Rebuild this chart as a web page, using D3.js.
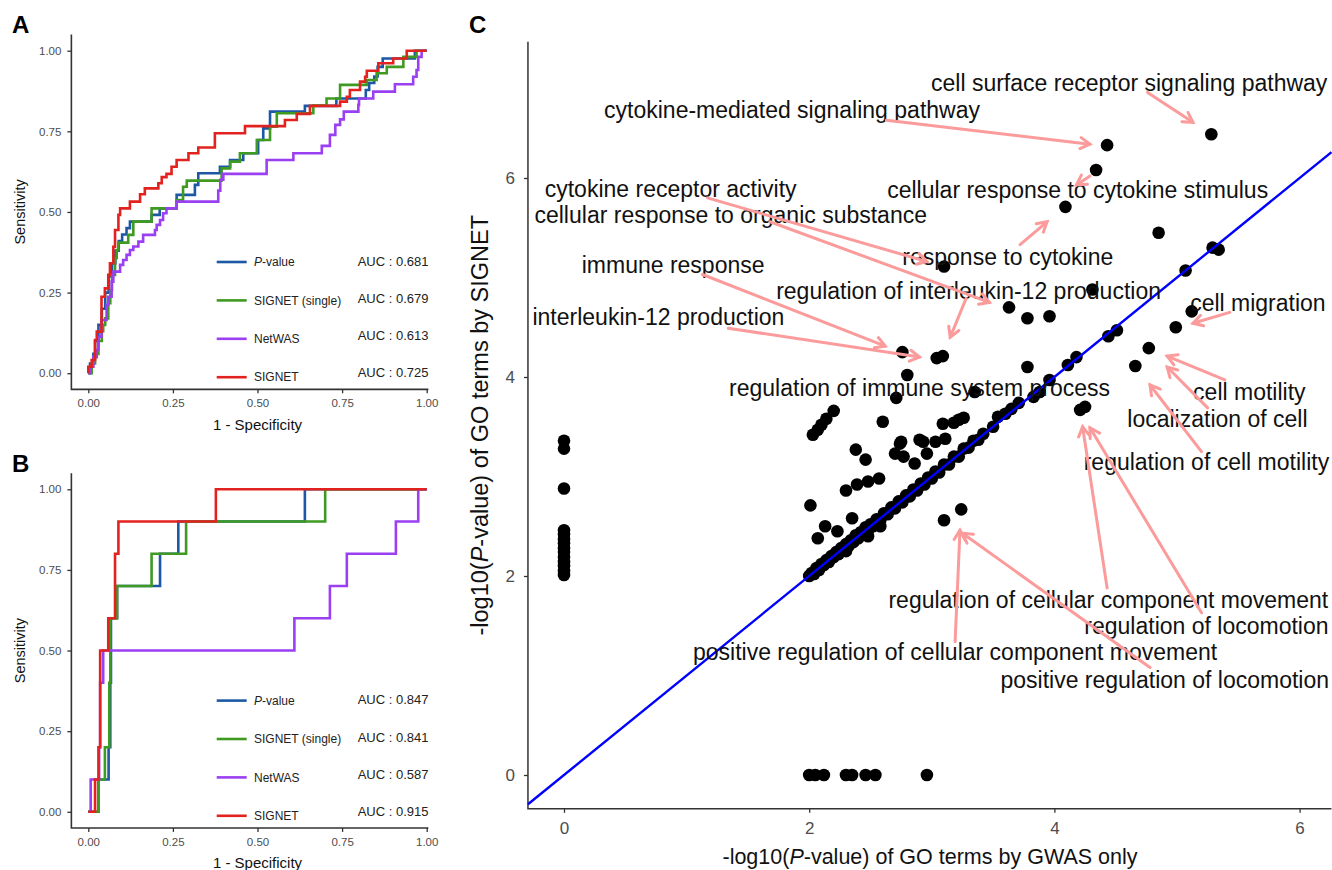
<!DOCTYPE html>
<html>
<head>
<meta charset="utf-8">
<script src="https://cdn.jsdelivr.net/npm/d3@7"></script>
<style>
body { margin: 0; background: #fff; }
svg { font-family: "Liberation Sans", Arial, sans-serif; }
.tick line { stroke: #333; }
.tick text { fill: #4d4d4d; }
</style>
</head>
<body>
<div class="chart"></div>
<script>
var width = 1332;
var height = 870;

// ---- data: ROC panels (fpr where a level starts, tpr level) ----
var methods = ["P-value", "SIGNET (single)", "NetWAS", "SIGNET"];
var aucA = ["0.681", "0.679", "0.613", "0.725"];
var aucB = ["0.847", "0.841", "0.587", "0.915"];
var rocTicks = [0, 0.25, 0.5, 0.75, 1];

var rocA_pvalue = [[0,0],[0.005,0.03],[0.015,0.06],[0.02,0.1],[0.03,0.15],[0.04,0.2],[0.05,0.25],[0.06,0.3],[0.07,0.34],
  [0.08,0.38],[0.09,0.41],[0.1,0.43],[0.113,0.45],[0.123,0.47],[0.187,0.491],[0.211,0.511],[0.261,0.553],[0.315,0.584],
  [0.325,0.62],[0.389,0.64],[0.419,0.661],[0.458,0.682],[0.502,0.723],[0.517,0.759],[0.537,0.811],[0.64,0.829],
  [0.733,0.852],[0.82,0.878],[0.83,0.9],[0.845,0.92],[0.855,0.95],[0.87,0.976],[0.965,1],[1,1]];
var rocA_single = [[0,0],[0.01,0.03],[0.02,0.06],[0.03,0.1],[0.04,0.13],[0.044,0.15],[0.05,0.17],[0.059,0.217],
  [0.065,0.258],[0.07,0.305],[0.079,0.357],[0.084,0.382],[0.089,0.405],[0.118,0.429],[0.133,0.47],[0.187,0.511],
  [0.261,0.537],[0.28,0.578],[0.291,0.597],[0.394,0.635],[0.419,0.656],[0.448,0.682],[0.498,0.723],[0.537,0.764],
  [0.557,0.806],[0.665,0.83],[0.704,0.852],[0.744,0.894],[0.823,0.909],[0.852,0.93],[0.882,0.95],[0.931,0.981],
  [0.97,1],[1,1]];
var rocA_netwas = [[0,0],[0.005,0.02],[0.015,0.05],[0.025,0.072],[0.03,0.113],[0.039,0.165],[0.054,0.212],[0.059,0.237],
  [0.069,0.284],[0.074,0.315],[0.094,0.336],[0.103,0.351],[0.113,0.367],[0.123,0.382],[0.133,0.393],[0.148,0.408],
  [0.162,0.429],[0.197,0.444],[0.202,0.46],[0.212,0.475],[0.221,0.496],[0.231,0.511],[0.261,0.532],[0.384,0.566],
  [0.39,0.6],[0.399,0.618],[0.527,0.661],[0.606,0.682],[0.69,0.705],[0.714,0.739],[0.73,0.77],[0.744,0.787],
  [0.755,0.811],[0.798,0.832],[0.8,0.852],[0.842,0.873],[0.906,0.896],[0.96,0.919],[0.97,0.94],[0.975,0.981],
  [0.985,1],[1,1]];
var rocA_signet = [[0,0],[0,0.02],[0.01,0.041],[0.02,0.103],[0.025,0.129],[0.039,0.237],[0.049,0.263],[0.059,0.305],
  [0.064,0.341],[0.074,0.392],[0.079,0.444],[0.089,0.491],[0.094,0.511],[0.123,0.532],[0.153,0.555],[0.167,0.573],
  [0.207,0.589],[0.217,0.608],[0.231,0.618],[0.246,0.64],[0.261,0.661],[0.296,0.682],[0.325,0.70],[0.374,0.744],
  [0.463,0.766],[0.581,0.785],[0.616,0.804],[0.655,0.829],[0.744,0.842],[0.764,0.857],[0.773,0.878],[0.803,0.904],
  [0.818,0.919],[0.823,0.938],[0.857,0.961],[0.901,0.976],[0.941,1],[1,1]];

var rocB_pvalue = [[0,0],[0.03,0.1],[0.06,0.2],[0.065,0.4],[0.067,0.6],[0.085,0.7],[0.212,0.8],[0.266,0.9],[0.64,1],[1,1]];
var rocB_single = [[0,0],[0.03,0.1],[0.049,0.2],[0.062,0.4],[0.065,0.6],[0.085,0.7],[0.187,0.8],[0.289,0.9],[0.70,1],[1,1]];
var rocB_netwas = [[0,0],[0.007,0.1],[0.032,0.2],[0.035,0.4],[0.044,0.5],[0.609,0.6],[0.714,0.7],[0.764,0.8],[0.909,0.9],[0.975,1],[1,1]];
var rocB_signet = [[0,0],[0.02,0.1],[0.03,0.2],[0.035,0.5],[0.059,0.6],[0.079,0.8],[0.089,0.9],[0.377,1],[1,1]];

// ---- data: GO term scatter (GWAS only, SIGNET) ----
var goTicks = [0, 2, 4, 6];
var goTerms = [
  [0,3.36],[0,3.28],[0,2.88],[0,2.46],[0,2.42],[0,2.37],[0,2.33],[0,2.28],[0,2.24],[0,2.19],[0,2.14],[0,2.10],[0,2.05],[0,2.01],
  [2.0,0],[2.05,0],[2.12,0],[2.30,0],[2.35,0],[2.46,0],[2.54,0],[2.96,0],
  [2.03,3.42],[2.07,3.47],[2.10,3.52],[2.14,3.58],[2.20,3.66],[2.38,3.27],[2.46,3.17],[2.60,3.55],[2.71,3.79],
  [2.74,3.33],[2.70,3.23],[2.77,3.20],[2.57,2.98],[2.48,2.95],[2.39,2.92],[2.30,2.86],[2.01,2.71],[2.35,2.58],
  [2.13,2.50],[2.23,2.45],[2.07,2.38],[3.10,5.11],[2.76,4.25],[3.04,4.19],[3.09,4.21],[2.80,4.02],[3.35,3.85],
  [3.22,3.57],[3.26,3.59],[3.18,3.54],[3.09,3.53],[2.75,3.35],[2.90,3.37],[3.03,3.35],[3.11,3.38],[2.96,3.23],
  [2.86,3.13],[2.93,3.35],[4.09,5.71],[4.85,5.45],[5.29,5.30],[5.34,5.28],[5.07,5.07],[4.31,4.88],[3.63,4.70],
  [3.78,4.59],[3.96,4.61],[3.78,4.10],[5.28,6.44],[4.43,6.33],[4.34,6.08],
  [5.12,4.66],[4.99,4.50],[4.77,4.29],[4.66,4.11],[4.21,3.67],[4.25,3.70],[3.24,2.67],[3.10,2.56],
  [4.51,4.47],[4.44,4.41],[4.18,4.20],[4.11,4.12],[3.96,3.97],[3.88,3.85],[3.83,3.80],[3.71,3.74],[3.65,3.68],
  [3.60,3.63],[3.54,3.60],[3.50,3.50],[3.42,3.43],
  [2.00,2.00],[2.02,2.03],[2.04,2.02],[2.06,2.08],[2.08,2.06],[2.10,2.12],[2.12,2.11],[2.14,2.16],[2.16,2.14],
  [2.18,2.20],[2.20,2.19],[2.22,2.24],[2.24,2.22],[2.26,2.28],[2.28,2.26],[2.30,2.32],[2.32,2.30],[2.34,2.36],
  [2.36,2.34],[2.38,2.41],[2.40,2.38],[2.42,2.44],[2.44,2.42],[2.46,2.49],[2.48,2.46],[2.50,2.52],[2.52,2.50],
  [2.55,2.57],[2.58,2.56],[2.61,2.63],[2.64,2.62],[2.67,2.69],[2.70,2.68],[2.73,2.75],[2.76,2.74],[2.79,2.81],
  [2.82,2.80],[2.85,2.87],[2.88,2.86],[2.91,2.93],[2.94,2.92],[2.97,2.99],[3.00,2.98],[3.03,3.05],[3.06,3.04],
  [3.10,3.12],[3.14,3.12],[3.18,3.20],[3.22,3.20],[3.26,3.28],[3.30,3.29],[3.34,3.36],[3.38,3.37],
  [2.48,2.40],[2.30,2.25],[2.58,2.50]
];
// label text, centre (data units)
var goLabels = [
  ["cell surface receptor signaling pathway", 4.61, 6.96],
  ["cytokine-mediated signaling pathway", 1.86, 6.68],
  ["cellular response to cytokine stimulus", 4.19, 5.88],
  ["cytokine receptor activity", 0.87, 5.89],
  ["cellular response to organic substance", 1.36, 5.63],
  ["response to cytokine", 3.62, 5.21],
  ["immune response", 0.89, 5.13],
  ["regulation of interleukin-12 production", 3.30, 4.86],
  ["interleukin-12 production", 0.77, 4.60],
  ["regulation of immune system process", 2.90, 3.89],
  ["cell migration", 5.66, 4.74],
  ["cell motility", 5.59, 3.85],
  ["localization of cell", 5.33, 3.58],
  ["regulation of cell motility", 5.24, 3.15],
  ["regulation of cellular component movement", 4.44, 1.76],
  ["regulation of locomotion", 5.24, 1.50],
  ["positive regulation of cellular component movement", 3.19, 1.24],
  ["positive regulation of locomotion", 4.90, 0.96]
];
// arrows: from (x, y) to (x, y), data units
var goArrows = [
  [4.76,6.86,5.13,6.56],[2.63,6.58,4.29,6.34],[4.29,6.02,4.18,5.93],[1.17,5.80,2.96,5.16],[1.68,5.56,3.47,4.75],
  [3.72,5.33,3.94,5.56],[1.13,5.03,2.62,4.31],[3.28,4.79,3.15,4.40],[1.34,4.49,2.90,4.20],[5.43,4.65,5.13,4.54],
  [5.39,3.97,4.92,4.21],[5.25,3.69,4.92,4.10],[5.20,3.25,4.78,3.92],[4.43,1.88,4.23,3.50],[5.20,1.63,4.29,3.49],
  [3.19,1.34,3.23,2.46],[4.78,1.08,3.25,2.43]
];

var colors = ["#1d58a4", "#3f9a22", "#9b3ff2", "#e2221e"];
var axisColor = "#333";

function build_svg(c) {
    return c.append("svg").attr("width", width).attr("height", height);
}

function add_parts(t, parts) {
    parts.forEach(function(p) {
        t.append("tspan").attr("font-style", p[1] ? "italic" : null).text(p[0]);
    });
}

function build_roc(s, top, curves, auc, letter) {
    var x = d3.scaleLinear().domain([0, 1]).range([88.3, 426.7]);
    var y = d3.scaleLinear().domain([0, 1]).range([top + 322.5, top]);
    var g = s.append("g");

    var xAxis = d3.axisBottom(x).tickValues(rocTicks).tickFormat(d3.format(".2f")).tickSize(4).tickPadding(6);
    var yAxis = d3.axisLeft(y).tickValues(rocTicks).tickFormat(d3.format(".2f")).tickSize(4).tickPadding(6);
    var gx = g.append("g").attr("transform", "translate(0," + y(-0.05) + ")").call(xAxis);
    var gy = g.append("g").attr("transform", "translate(" + x(-0.05) + ",0)").call(yAxis);
    [gx, gy].forEach(function(a) {
        a.select(".domain").remove();
        a.selectAll("text").attr("font-size", "11.5px").attr("font-family", "Liberation Sans, Arial, sans-serif");
        a.selectAll("line").attr("stroke-width", 1.3);
    });
    g.append("path")
        .attr("d", "M" + x(-0.05) + "," + y(1.05) + "V" + y(-0.05) + "H" + x(1.005))
        .attr("fill", "none").attr("stroke", axisColor).attr("stroke-width", 1.6);

    var line = d3.line().x(function(d) { return x(d[0]); }).y(function(d) { return y(d[1]); }).curve(d3.curveStepAfter);
    curves.forEach(function(c, i) {
        g.append("path").attr("d", line(c)).attr("fill", "none")
            .attr("stroke", colors[i]).attr("stroke-width", 2.6).attr("stroke-linejoin", "miter");
    });

    // legend
    methods.forEach(function(m, i) {
        var ly = top + 211.3 + i * 38.4;
        g.append("line").attr("x1", 216.7).attr("x2", 246.7).attr("y1", ly).attr("y2", ly)
            .attr("stroke", colors[i]).attr("stroke-width", 2.6);
        var t = g.append("text").attr("x", 254).attr("y", ly).attr("dy", "0.35em")
            .attr("font-size", "12px").attr("fill", "#222");
        if (i == 0) add_parts(t, [["P", true], ["-value", false]]);
        else t.text(m);
        g.append("text").attr("x", 357.7).attr("y", top + 210.5 + i * 37.2).attr("dy", "0.35em")
            .attr("font-size", "13px").attr("fill", "#222").text("AUC : " + auc[i]);
    });

    g.append("text").attr("x", x(0.5)).attr("y", top + 379).attr("text-anchor", "middle")
        .attr("font-size", "15px").attr("fill", "#111").text("1 - Specificity");
    g.append("text").attr("transform", "translate(25," + y(0.5) + ") rotate(-90)").attr("text-anchor", "middle")
        .attr("font-size", "14.5px").attr("fill", "#111").text("Sensitivity");
    g.append("text").attr("x", 12).attr("y", top - 17.5).attr("font-size", "24px")
        .attr("font-weight", "bold").text(letter);
}

function arrow_head(x1, y1, x2, y2, len) {
    var a = Math.atan2(y2 - y1, x2 - x1);
    var p1 = [x2 - len * Math.cos(a - Math.PI / 6), y2 - len * Math.sin(a - Math.PI / 6)];
    var p2 = [x2 - len * Math.cos(a + Math.PI / 6), y2 - len * Math.sin(a + Math.PI / 6)];
    return "M" + p1 + "L" + x2 + "," + y2 + "L" + p2;
}

function build_scatter(s) {
    var x = d3.scaleLinear().domain([0, 6]).range([564, 1299.6]);
    var y = d3.scaleLinear().domain([0, 6]).range([775, 178]);
    var xDom = [-0.294, 6.26], yDom = [-0.34, 7.37];
    var g = s.append("g");

    var xAxis = d3.axisBottom(x).tickValues(goTicks).tickFormat(d3.format("d")).tickSize(4).tickPadding(9);
    var yAxis = d3.axisLeft(y).tickValues(goTicks).tickFormat(d3.format("d")).tickSize(4).tickPadding(9);
    var gx = g.append("g").attr("transform", "translate(0," + y(yDom[0]) + ")").call(xAxis);
    var gy = g.append("g").attr("transform", "translate(" + x(xDom[0]) + ",0)").call(yAxis);
    [gx, gy].forEach(function(a) {
        a.select(".domain").remove();
        a.selectAll("text").attr("font-size", "17px").attr("font-family", "Liberation Sans, Arial, sans-serif");
        a.selectAll("line").attr("stroke-width", 1.3);
    });
    g.append("path")
        .attr("d", "M" + x(xDom[0]) + "," + y(yDom[1]) + "V" + y(yDom[0]) + "H" + x(xDom[1]))
        .attr("fill", "none").attr("stroke", axisColor).attr("stroke-width", 1.5);

    g.selectAll(".go").data(goTerms).enter().append("circle")
        .attr("class", "go")
        .attr("cx", function(d) { return x(d[0]); })
        .attr("cy", function(d) { return y(d[1]); })
        .attr("r", 6.3).attr("fill", "#000");

    // identity line
    var line = d3.line().x(function(d) { return x(d[0]); }).y(function(d) { return y(d[1]); });
    g.append("path").attr("d", line([[xDom[0], xDom[0]], [xDom[1], xDom[1]]]))
        .attr("stroke", "#0000ff").attr("stroke-width", 2.4).attr("fill", "none");

    g.selectAll(".lab").data(goLabels).enter().append("text")
        .attr("class", "lab")
        .attr("x", function(d) { return x(d[1]); })
        .attr("y", function(d) { return y(d[2]); })
        .attr("dy", "0.35em").attr("text-anchor", "middle")
        .attr("font-size", "23px").attr("fill", "#111")
        .text(function(d) { return d[0]; });

    var arr = g.selectAll(".arr").data(goArrows).enter().append("g").attr("class", "arr")
        .attr("stroke", "#fb9b9b").attr("stroke-width", 3).attr("fill", "none").attr("stroke-linecap", "round");
    arr.append("line")
        .attr("x1", function(d) { return x(d[0]); }).attr("y1", function(d) { return y(d[1]); })
        .attr("x2", function(d) { return x(d[2]); }).attr("y2", function(d) { return y(d[3]); });
    arr.append("path").attr("d", function(d) {
        return arrow_head(x(d[0]), y(d[1]), x(d[2]), y(d[3]), 11);
    });

    var xt = g.append("text").attr("x", (x(xDom[0]) + width) / 2).attr("y", 864)
        .attr("text-anchor", "middle").attr("font-size", "21.5px").attr("fill", "#111");
    add_parts(xt, [["-log10(", false], ["P", true], ["-value) of GO terms by GWAS only", false]]);
    var yt = g.append("text").attr("transform", "translate(488," + (y(yDom[0]) + y(yDom[1])) / 2 + ") rotate(-90)")
        .attr("text-anchor", "middle").attr("font-size", "23.5px").attr("fill", "#111");
    add_parts(yt, [["-log10(", false], ["P", true], ["-value) of GO terms by SIGNET", false]]);

    g.append("text").attr("x", 469).attr("y", 33).attr("font-size", "24px").attr("font-weight", "bold").text("C");
}

function main() {
    var container = d3.select(".chart");
    var svg = build_svg(container);
    svg.append("rect").attr("width", width).attr("height", height).attr("fill", "#fff");
    build_roc(svg, 50.7, [rocA_pvalue, rocA_single, rocA_netwas, rocA_signet], aucA, "A");
    build_roc(svg, 489.3, [rocB_pvalue, rocB_single, rocB_netwas, rocB_signet], aucB, "B");
    build_scatter(svg);
}

main();
</script>
</body>
</html>
